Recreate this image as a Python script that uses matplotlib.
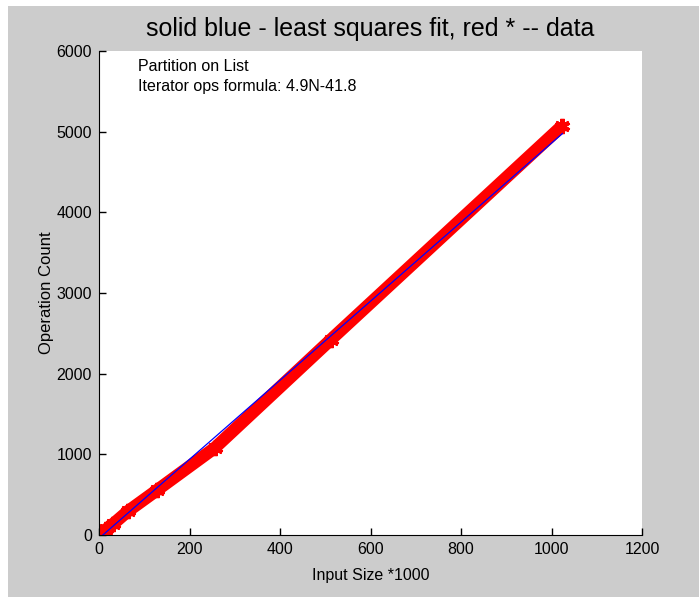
import numpy as np
import matplotlib.pyplot as plt
from matplotlib.patches import Rectangle

# input size (thousands) and measured iterator operation counts
input_size = [1, 2, 4, 8, 16, 32, 64, 128, 256, 512, 1024]
op_count = [5, 10, 18, 35, 70, 140, 295, 555, 1080, 2420, 5075]
# least squares coefficients as printed on the chart
fit_slope = 4.9
fit_intercept = -41.8

plt.rcParams['font.family'] = ['Liberation Sans', 'DejaVu Sans']

fig = plt.figure(figsize=(6.99, 5.97), dpi=100, facecolor='white')
fig.patches.append(Rectangle((8 / 699, 0), 1, 1 - 6 / 597, transform=fig.transFigure,
                             facecolor='#cccccc', edgecolor='none', zorder=-1))
ax = fig.add_axes([99 / 699, 62 / 597, 543 / 699, 484 / 597])

x = np.array(input_size)
ax.plot(x, op_count, color='red', lw=9, marker=(6, 2, 0), ms=11, mew=3,
        solid_capstyle='butt', zorder=2)
ax.plot(x, fit_slope * x + fit_intercept, color='blue', lw=0.9, zorder=3)

ax.set_xlim(0, 1200)
ax.set_ylim(0, 6000)
ax.set_xticks(range(0, 1201, 200))
ax.set_yticks(range(0, 6001, 1000))
ax.spines['top'].set_visible(False)
ax.spines['right'].set_visible(False)
ax.tick_params(direction='in', length=5, width=1, labelsize=11.5, pad=5)

ax.set_title('solid blue - least squares fit, red * -- data', fontsize=18, pad=11)
ax.set_xlabel('Input Size *1000', fontsize=11.5, labelpad=8)
ax.set_ylabel('Operation Count', fontsize=12, labelpad=2)
ax.text(86, 5900, 'Partition on List\nIterator ops formula: 4.9N-41.8',
        fontsize=11.5, va='top', ha='left', linespacing=1.45)

fig.savefig('out.png', dpi=100, facecolor=fig.get_facecolor())
